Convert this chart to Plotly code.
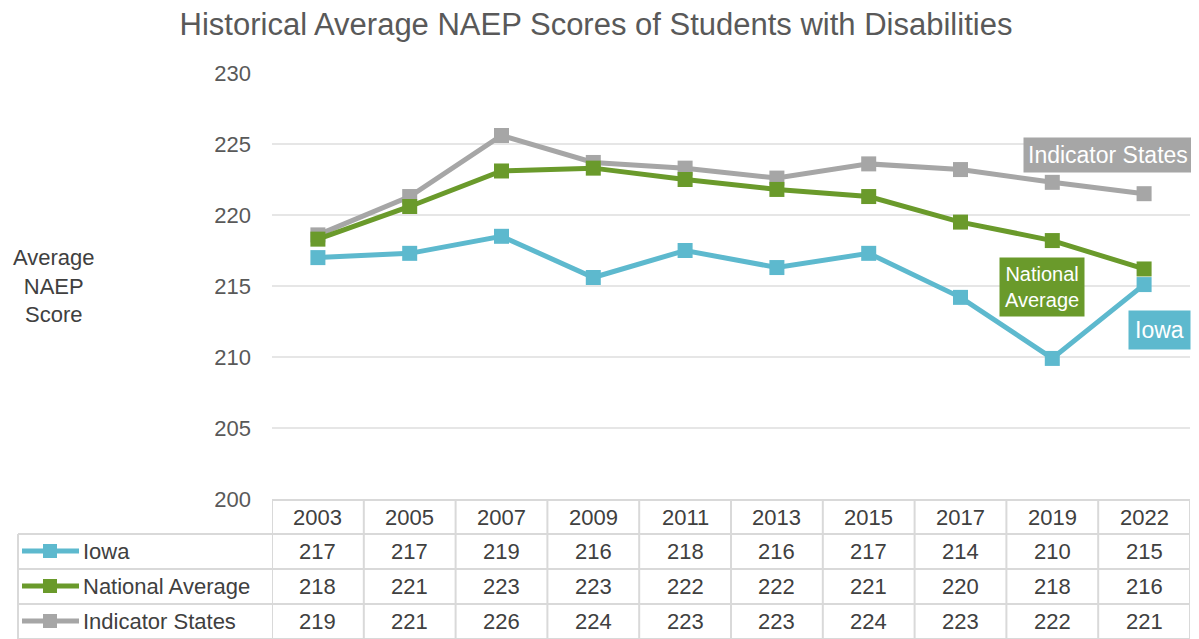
import plotly.graph_objects as go

years = ["2003", "2005", "2007", "2009", "2011", "2013", "2015", "2017", "2019", "2022"]
iowa = [217.0, 217.3, 218.5, 215.6, 217.5, 216.3, 217.3, 214.2, 209.9, 215.1]
national = [218.3, 220.6, 223.1, 223.3, 222.5, 221.8, 221.3, 219.5, 218.2, 216.2]
indicator = [218.6, 221.3, 225.6, 223.7, 223.3, 222.6, 223.6, 223.2, 222.3, 221.5]
iowa_tbl = [217, 217, 219, 216, 218, 216, 217, 214, 210, 215]
national_tbl = [218, 221, 223, 223, 222, 222, 221, 220, 218, 216]
indicator_tbl = [219, 221, 226, 224, 223, 223, 224, 223, 222, 221]
series_names = ["Iowa", "National Average", "Indicator States"]
y_ticks = [200, 205, 210, 215, 220, 225, 230]

C_IOWA = "#5DB9CE"
C_NAT = "#6A9A2B"
C_IND = "#A6A6A6"
TXT = "#595959"
GRID = "#E6E6E6"
TBL = "#D9D9D9"
FONT = "Liberation Sans, Arial"

OFF = 8  # page body margin
W, H = 1199 - OFF, 639 - OFF
# reference page coordinates of plot area
L, R, T, B = 272, 1190, 73, 499


def py(p):
    return (B - p) / (B - T)


def px(p):
    return (p - L) / (R - L)


fig = go.Figure()
x_idx = list(range(len(years)))
for name, vals, col in [("Indicator States", indicator, C_IND),
                        ("National Average", national, C_NAT),
                        ("Iowa", iowa, C_IOWA)]:
    fig.add_trace(go.Scatter(x=x_idx, y=vals, mode="lines+markers", name=name,
                             line=dict(color=col, width=5),
                             marker=dict(symbol="square", size=15, color=col),
                             showlegend=False, hoverinfo="skip"))

shapes = []
annotations = []

# Table
row_bounds = [500, 534, 569, 604, 639]
line_style = dict(color=TBL, width=2)
shapes.append(dict(type="line", xref="paper", yref="paper", x0=0, x1=1,
                   y0=py(row_bounds[0]), y1=py(row_bounds[0]), line=line_style, layer="below"))
for rb in row_bounds[1:]:
    shapes.append(dict(type="line", xref="paper", yref="paper", x0=px(18), x1=1,
                       y0=py(rb), y1=py(rb), line=line_style))
for k in range(len(years) + 1):
    xv = -0.5 + k
    shapes.append(dict(type="line", xref="x", yref="paper", x0=xv, x1=xv,
                       y0=py(row_bounds[0]), y1=py(row_bounds[-1]), line=line_style))
shapes.append(dict(type="line", xref="paper", yref="paper", x0=px(18), x1=px(18),
                   y0=py(row_bounds[1]), y1=py(row_bounds[-1]), line=line_style))

font_tbl = dict(family=FONT, size=22, color="#404040")
for i, y in enumerate(years):
    annotations.append(dict(x=i, xref="x", y=py(517), yref="paper", text=y,
                            showarrow=False, font=font_tbl, yanchor="middle"))
rows = [(iowa_tbl, C_IOWA, "Iowa"), (national_tbl, C_NAT, "National Average"),
        (indicator_tbl, C_IND, "Indicator States")]
row_centers = [551, 586, 621]
for (vals, col, nm), rc in zip(rows, row_centers):
    for i, v in enumerate(vals):
        annotations.append(dict(x=i, xref="x", y=py(rc), yref="paper", text=str(v),
                                showarrow=False, font=font_tbl, yanchor="middle"))
    shapes.append(dict(type="line", xref="paper", yref="paper", x0=px(22), x1=px(79),
                       y0=py(rc), y1=py(rc), line=dict(color=col, width=5)))
    shapes.append(dict(type="rect", xref="paper", yref="paper", x0=px(43), x1=px(57),
                       y0=py(rc - 7), y1=py(rc + 7), line=dict(width=0), fillcolor=col))
    annotations.append(dict(x=px(81), xref="paper", y=py(rc), yref="paper", text=nm,
                            showarrow=False, font=font_tbl, xanchor="left", yanchor="middle"))

# Series labels on chart
lab_font = dict(family=FONT, size=23, color="white")
annotations.append(dict(x=px(1108), xref="paper", y=py(155), yref="paper",
                        text="Indicator States", showarrow=False, font=lab_font,
                        bgcolor=C_IND, borderpad=4, xanchor="center", yanchor="middle"))
annotations.append(dict(x=px(1042), xref="paper", y=py(287), yref="paper",
                        text="National<br>Average", showarrow=False,
                        font=dict(family=FONT, size=20, color="white"),
                        bgcolor=C_NAT, borderpad=5, xanchor="center", yanchor="middle"))
annotations.append(dict(x=px(1159), xref="paper", y=py(330), yref="paper",
                        text="Iowa", showarrow=False, font=lab_font,
                        bgcolor=C_IOWA, borderpad=6, xanchor="center", yanchor="middle"))

# Y axis title
annotations.append(dict(x=px(54), xref="paper", y=py(286), yref="paper",
                        text="Average<br>NAEP<br>Score", showarrow=False,
                        font=dict(family=FONT, size=22, color="#404040"),
                        align="center", xanchor="center", yanchor="middle"))

fig.update_layout(
    width=W, height=H,
    margin=dict(l=L - OFF, r=W - (R - OFF), t=T - OFF, b=H - (B - OFF)),
    paper_bgcolor="white", plot_bgcolor="white",
    title=dict(text="Historical Average NAEP Scores of Students with Disabilities",
               x=(596 - OFF) / W, xref="container", xanchor="center",
               y=1 - (24 - OFF) / H, yref="container", yanchor="middle",
               font=dict(family=FONT, size=31, color=TXT)),
    xaxis=dict(range=[-0.5, len(years) - 0.5], showgrid=False, showticklabels=False,
               zeroline=False, showline=False, fixedrange=True),
    yaxis=dict(range=[200, 230], tickvals=y_ticks, showgrid=True, gridcolor=GRID,
               gridwidth=2, zeroline=False, showline=False,
               tickfont=dict(family=FONT, size=22, color=TXT),
               ticklabelstandoff=20),
    shapes=shapes, annotations=annotations,
)

fig.write_html("out.html")
